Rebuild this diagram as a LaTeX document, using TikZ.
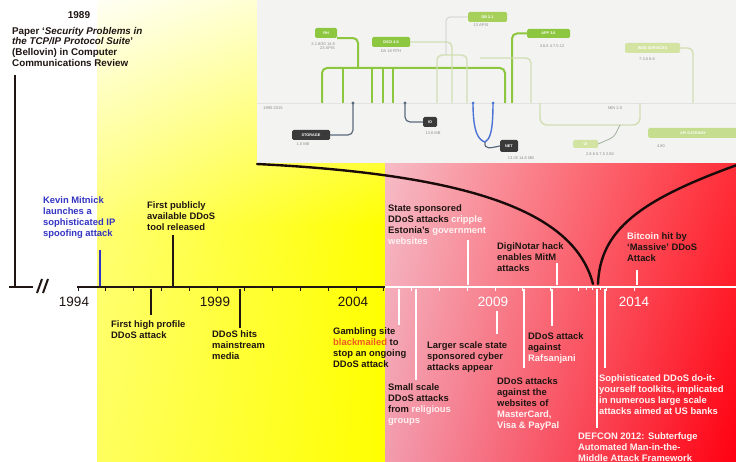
\documentclass[tikz,border=0pt]{standalone}
\usepackage{fontspec}
\setmainfont{Liberation Sans}
\usetikzlibrary{shadings}

\definecolor{ink}{HTML}{1F1512}
\definecolor{hl}{HTML}{FFF2F2}
\definecolor{mitnick}{HTML}{3434C4}
\definecolor{blackmail}{HTML}{F05A22}
\definecolor{panelbg}{HTML}{F3F3F1}
\definecolor{gridgray}{HTML}{E2E2E0}
\definecolor{leaf}{HTML}{8DC63F}
\definecolor{leafmid}{HTML}{A6D05A}
\definecolor{leafpale}{HTML}{D3E3A2}
\definecolor{leafline}{HTML}{D2DFB4}
\definecolor{slate}{HTML}{5B6B7E}
\definecolor{wire}{HTML}{4B72D6}
\definecolor{dbox}{HTML}{3A3A3A}
\definecolor{tag}{HTML}{8C8C8C}
\definecolor{yA}{HTML}{FFFFF4}
\definecolor{yB}{HTML}{FFFFB8}
\definecolor{yC}{HTML}{FFFF74}
\definecolor{yD}{HTML}{FFFF5E}
\definecolor{yFull}{HTML}{FFFF00}
\definecolor{rUL}{HTML}{F6BCC6}
\definecolor{rUR}{HTML}{FF2E38}
\definecolor{rLL}{HTML}{F29CAE}
\definecolor{rLR}{HTML}{FF0010}
\definecolor{lens}{HTML}{1A0A0A}

\begin{document}
\begin{tikzpicture}[x=1pt,y=-1pt,
  evt/.style={anchor=north west, align=left, inner sep=0pt, text=ink,
    font=\fontsize{9.4}{11}\selectfont\bfseries},
  yr/.style={inner sep=0pt, font=\fontsize{13.5}{14}\selectfont},
  stem/.style={line width=1.6pt, draw=ink},
  wstem/.style={line width=1.3pt, draw=white},
  tick/.style={line width=0.9pt},
  lensline/.style={line width=2.4pt, draw=lens, line cap=round},
  gl/.style={line width=2pt, draw=leaf, rounded corners=5pt},
  pl/.style={line width=1.4pt, draw=leafline, rounded corners=5pt},
  sl/.style={line width=1.2pt, draw=slate, rounded corners=5pt},
  bl/.style={line width=1.4pt, draw=wire},
  gbox/.style={fill=leaf, rounded corners=1.5pt, inner sep=0pt, text=white,
    font=\fontsize{3.8}{4}\selectfont\bfseries},
  pbox/.style={gbox, fill=leafpale},
  dark/.style={gbox, fill=dbox},
  tagtxt/.style={inner sep=0pt, text=tag, align=right,
    font=\fontsize{4}{4.8}\selectfont},
]
\useasboundingbox (0,0) rectangle (736,462);
\begin{scope}
\clip (0,0) rectangle (736,462);

% ---- backgrounds ----
\fill[white] (0,0) rectangle (736,462);
% yellow field: pale at the top left, saturated towards the lower right
\shade[upper left=yA, upper right=yB, lower left=yC, lower right=yFull]
  (97,0) rectangle (385,225.5);
\shade[upper left=yC, upper right=yFull, lower left=yD, lower right=yFull]
  (97,225) rectangle (385,462);
% red field
\shade[upper left=rUL, upper right=rUR, lower left=rLL, lower right=rLR]
  (385,163) rectangle (736,462);

% ---- network panel ----
\fill[panelbg] (257,0) rectangle (736,163);
\draw[gridgray, line width=0.6pt] (257,103) -- (736,103);
\node[tagtxt] (axlabA) at (273,108) {1995-2015};
\node[tagtxt] (axlabB) at (615,108) {MIN 2.0};

% green bus and branches
\draw[gl] (322,103) -- (322,68) -- (505,68) -- (505,103);
\foreach \bx in {343,372,383,393} \draw[gl] (\bx,68) -- (\bx,103);

% boxes
\node[gbox, minimum width=22pt, minimum height=10pt] (bA) at (326,33) {RH};
\node[gbox, minimum width=38pt, minimum height=10pt] (bB) at (391,42) {DSCI 4.0};
\node[gbox, fill=leafmid, minimum width=39pt, minimum height=10pt] (bC) at (487.5,17) {DB 2.1};
\node[gbox, minimum width=43pt, minimum height=9pt] (bD) at (548.5,33.5) {APP 3.6};
\node[pbox, minimum width=55pt, minimum height=10pt] (bE) at (652.5,48) {WEB SERVICES};
\node[pbox, minimum width=25pt, minimum height=8pt] (bF) at (585.5,144) {UI};
\node[pbox, fill=leafpale!80!leaf, minimum width=90pt, minimum height=10pt] (bG) at (693,133) {API GATEWAY};
\node[dark, minimum width=38pt, minimum height=10pt] (bH) at (311,135) {STORAGE};
\node[dark, minimum width=14pt, minimum height=10pt] (bI) at (430,122) {IO};
\node[dark, minimum width=18pt, minimum height=12pt] (bJ) at (509,146) {NET};

% box tags
\node[tagtxt, anchor=north east] (tA) at (335,42) {2.1.8/30 14.8\\23 APIS};
\node[tagtxt, anchor=north] (tB) at (391,50) {DA 18 RTH};
\node[tagtxt, anchor=north] (tC) at (481,24) {13 APIS};
\node[tagtxt, anchor=north] (tD) at (552,45) {3.6.6 4.7.5.12};
\node[tagtxt, anchor=north] (tE) at (647,58) {7.3.5 6.6};
\node[tagtxt, anchor=north] (tF) at (600,153) {2.8.6 6.7.5 2.80};
\node[tagtxt, anchor=north] (tG) at (661,145) {4.80};
\node[tagtxt, anchor=north] (tH) at (303,143) {1.6 MB};
\node[tagtxt, anchor=north] (tI) at (433,132) {13.6 MB};
\node[tagtxt, anchor=north] (tJ) at (521,157) {13.05 14.6 MB};

% box links
\draw[gl] (bA.south east) -- (358,38) -- (358,68);
\draw[pl] (bB.east) -- (452,42) -- (452,103);
\draw[pl] (437,103) -- (437,55) -- (467,55) -- (467,103);
\draw[gridgray!70!tag, line width=0.7pt, rounded corners=4pt] (bC.west) -- (446,17) -- (446,55);
\draw[gl] (bD.west) -- (512,33.5) -- (512,103);
\draw[pl] (480,58) -- (531,58) -- (531,103);
\draw[pl] (bE.east) -- (693,48) -- (693,103);
\draw[pl, rounded corners=7pt] (540,103) -- (540,125) -- (640,125) -- (640,103);
\draw[leafline!60!slate, line width=0.8pt, rounded corners=4pt] (620,125) -- (614,137) -- (bF.east);
\draw[sl] (bH.east) -- (353,135) -- (353,103);
\draw[sl] (bI.west) -- (405,122) -- (405,103);
\fill[slate] (353,103) circle (1.6);
\fill[slate] (405,103) circle (1.6);
\coordinate (wjoin) at (485,142);
\draw[bl] (473,103) .. controls (473,134) and (479,140) .. (wjoin);
\draw[bl] (493,103) .. controls (493,132) and (490,139) .. (wjoin);
\draw[sl] (wjoin) .. controls (484,150) and (490,148) .. (bJ.west);
\fill[wire] (473,103) circle (1.5);
\fill[wire] (493,103) circle (1.5);

% ---- lens curves ----
\coordinate (lensL) at (257,164);
\coordinate (lensTipL) at (593,284);
\coordinate (lensTipR) at (598,284);
\coordinate (lensR) at (737,165);
\draw[lensline] (lensL) .. controls (480,175) and (575,215) .. (lensTipL);
\draw[lensline] (lensTipR) .. controls (600,230) and (640,200) .. (lensR);

% ---- left bracket ----
\coordinate (brTop) at (15,75);
\coordinate (brFoot) at (15,287);
\coordinate (brL) at (9,287);
\coordinate (brR) at (33,287);
\draw[line width=1.8pt, ink] (brTop) -- (brFoot);
\draw[line width=1.8pt, ink] (brL) -- (brR);
\coordinate (cut1a) at (37,293); \coordinate (cut1b) at (42,279);
\coordinate (cut2a) at (43,293); \coordinate (cut2b) at (48,279);
\draw[line width=2pt, ink] (cut1a) -- (cut1b);
\draw[line width=2pt, ink] (cut2a) -- (cut2b);

% ---- time axis ----
\coordinate (ax0) at (77,287);
\coordinate (axm) at (385,287);
\coordinate (ax1) at (737,287);
\draw[line width=1.8pt, ink] (ax0) -- (axm);
\draw[line width=1.6pt, white] (axm) -- (ax1);
\foreach \k in {0,...,11} \draw[tick, ink] (78+27.8*\k,286) -- (78+27.8*\k,291);
\foreach \k in {12,...,20} \draw[tick, white] (78+27.8*\k,286) -- (78+27.8*\k,291);
\foreach \tx in {586,592,600} \draw[tick, white] (\tx,286) -- (\tx,290);

\node[yr, text=ink] (y1994) at (74,302) {1994};
\node[yr, text=ink] (y1999) at (215,302) {1999};
\node[yr, text=ink] (y2004) at (353,302) {2004};
\node[yr, text=white] (y2009) at (493,302) {2009};
\node[yr, text=white] (y2014) at (634,302) {2014};

% ---- event stems ----
\coordinate (sKa) at (100,250); \coordinate (sKb) at (100,286);
\draw[line width=1.6pt, mitnick] (sKa) -- (sKb);
\foreach \nm/\x/\ya/\yb in {pub/173/235/286, high/151/289/315, media/240/289/328}{
  \coordinate (\nm-a) at (\x,\ya); \coordinate (\nm-b) at (\x,\yb);
  \draw[stem] (\nm-a) -- (\nm-b);
}
\foreach \nm/\x/\ya/\yb in {gamb/399/289/325, small/416/289/380, large/497/311/334,
    visa/524/289/368, rafs/552/289/326, defcon/597/289/428, kits/605/289/368,
    eston/468/240/285, digi/557/263/285, btc/637/270/285}{
  \coordinate (\nm-a) at (\x,\ya); \coordinate (\nm-b) at (\x,\yb);
  \draw[wstem] (\nm-a) -- (\nm-b);
}

% ---- event texts ----
\node[evt, anchor=north, font=\fontsize{10}{12}\selectfont\bfseries] (t1989) at (79,11) {1989};
\node[evt, font=\fontsize{9.8}{10.6}\selectfont\bfseries] (paper) at (12,27)
  {Paper `\textit{Security Problems in}\\ \textit{the TCP/IP Protocol Suite}'\\ (Bellovin) in Computer\\ Communications Review};
\node[evt, text=mitnick] (mitnickT) at (43,196)
  {Kevin Mitnick\\ launches a\\ sophisticated IP\\ spoofing attack};
\node[evt] (pubT) at (147,201) {First publicly\\ available DDoS\\ tool released};
\node[evt] (highT) at (111,320) {First high profile\\ DDoS attack};
\node[evt] (mediaT) at (212,330) {DDoS hits\\ mainstream\\ media};
\node[evt] (gambT) at (333,327)
  {Gambling site\\ \textcolor{blackmail}{blackmailed} to\\ stop an ongoing\\ DDoS attack};
\node[evt] (smallT) at (388,383)
  {Small scale\\ DDoS attacks\\ from \textcolor{hl}{religious}\\ \textcolor{hl}{groups}};
\node[evt] (largeT) at (427,341) {Larger scale state\\ sponsored cyber\\ attacks appear};
\node[evt] (visaT) at (497,377)
  {DDoS attacks\\ against the\\ websites of\\ \textcolor{hl}{MasterCard,}\\ \textcolor{hl}{Visa \& PayPal}};
\node[evt] (rafsT) at (528,332) {DDoS attack\\ against\\ \textcolor{hl}{Rafsanjani}};
\node[evt, text=hl] (defconT) at (578,432)
  {DEFCON 2012: Subterfuge\\ Automated Man-in-the-\\ Middle Attack Framework};
\node[evt, text=hl] (kitsT) at (599,374)
  {Sophisticated DDoS do-it-\\ yourself toolkits, implicated\\ in numerous large scale\\ attacks aimed at US banks};
\node[evt] (estonT) at (388,204)
  {State sponsored\\ DDoS attacks \textcolor{hl}{cripple}\\ Estonia's \textcolor{hl}{government}\\ \textcolor{hl}{websites}};
\node[evt] (digiT) at (497,242) {DigiNotar hack\\ enables MitM\\ attacks};
\node[evt] (btcT) at (627,232) {\textcolor{hl}{Bitcoin} hit by\\ `Massive' DDoS\\ Attack};
\end{scope}
\end{tikzpicture}
\end{document}
